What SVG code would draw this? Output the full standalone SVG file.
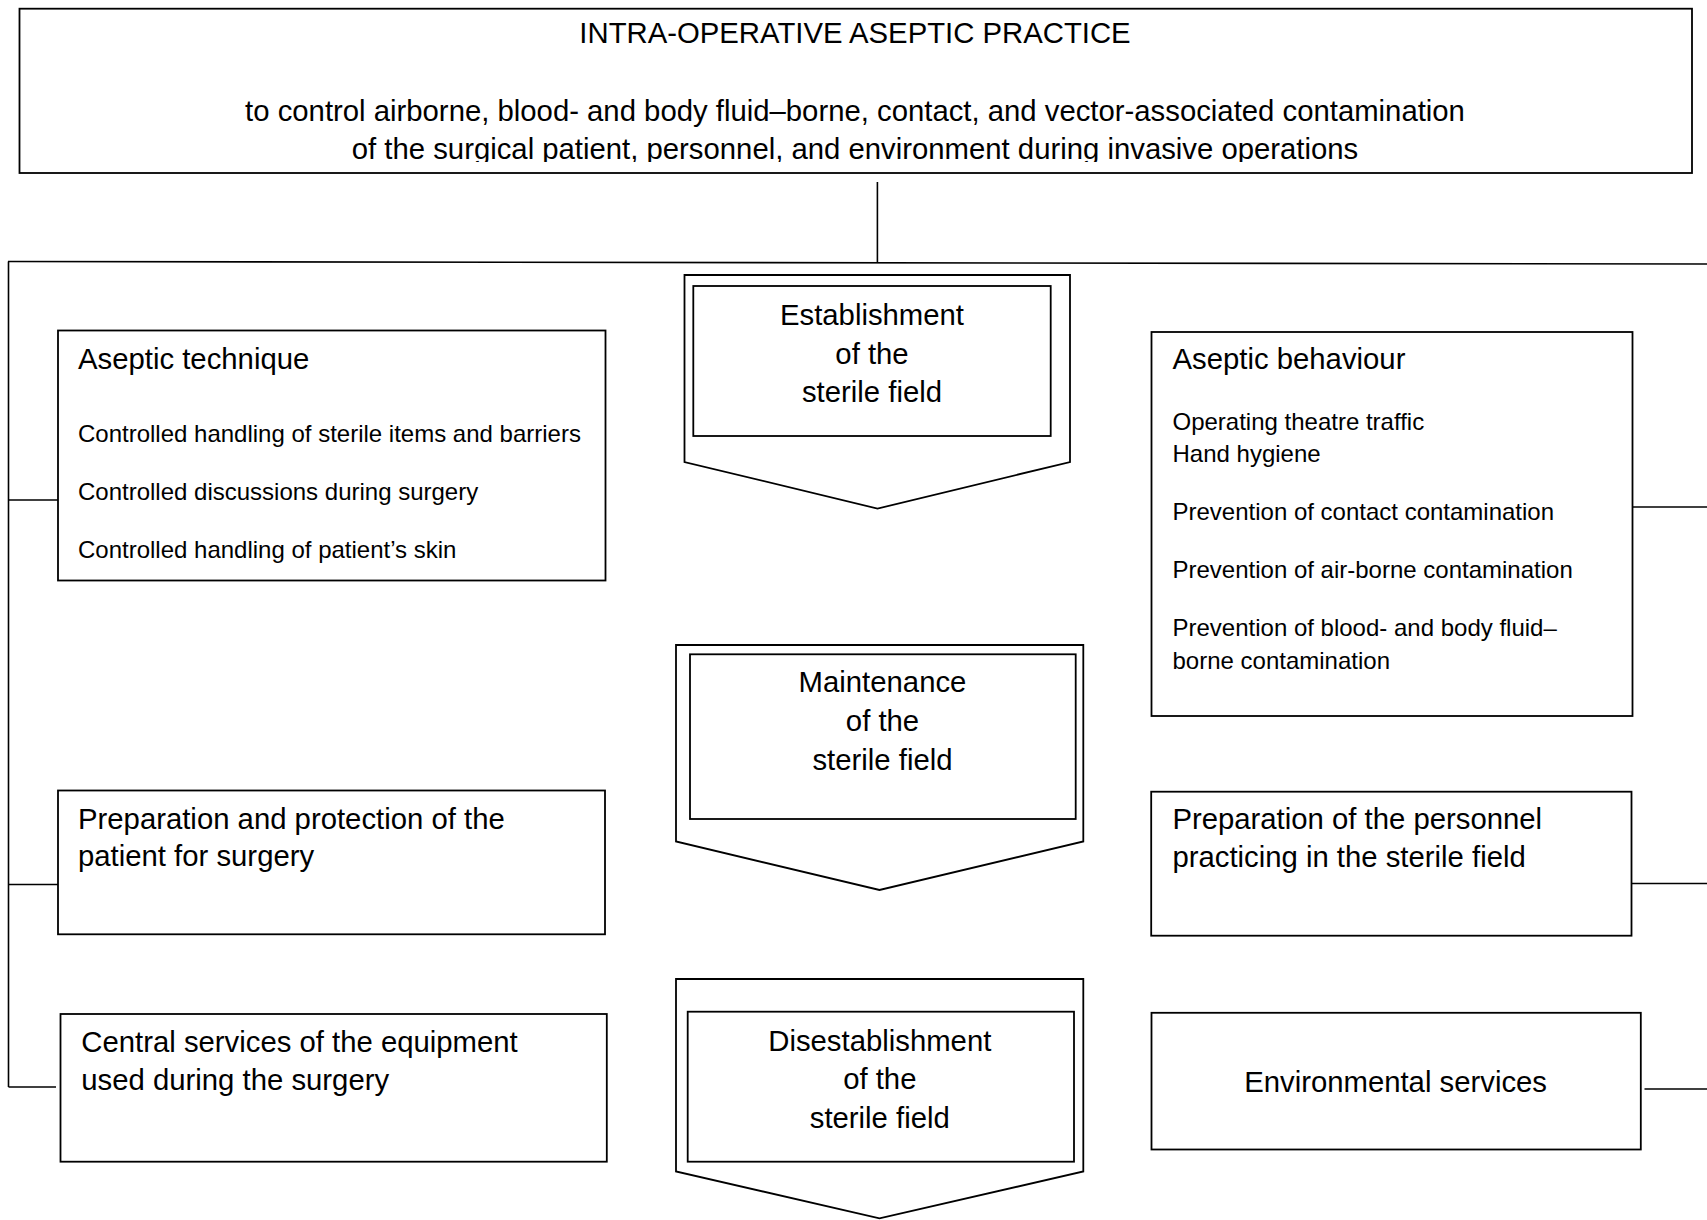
<svg xmlns="http://www.w3.org/2000/svg" width="1707" height="1220" viewBox="0 0 1707 1220">
<defs>
<style>
.box{fill:#fff;stroke:#000;stroke-width:1.8}
.chev{fill:#fff;stroke:#000;stroke-width:1.8}
.ln{fill:none;stroke:#000;stroke-width:1.6}
text{font-family:"Liberation Sans",Arial,sans-serif;fill:#000}
.big{font-size:29.3px}
.sm{font-size:24px}
.mid{text-anchor:middle}
</style>
<clipPath id="topclip"><rect x="19" y="8" width="1674" height="154"/></clipPath>
</defs>
<rect width="1707" height="1220" fill="#fff"/>
<g id="connectors">
<line class="ln" x1="877.4" y1="182" x2="877.4" y2="263"/>
<line class="ln" x1="8" y1="261.5" x2="1707" y2="264"/>
<line class="ln" x1="8.5" y1="261.5" x2="8.5" y2="1087"/>
<line class="ln" x1="8.5" y1="500" x2="58" y2="500"/>
<line class="ln" x1="8.5" y1="884.5" x2="58" y2="884.5"/>
<line class="ln" x1="8.5" y1="1087" x2="56" y2="1087"/>
<line class="ln" x1="1632.5" y1="507" x2="1707" y2="507"/>
<line class="ln" x1="1628.5" y1="883.5" x2="1707" y2="883.5"/>
<line class="ln" x1="1644.5" y1="1089" x2="1707" y2="1089"/>
</g>
<g id="top">
<rect class="box" x="19.5" y="8.7" width="1672.5" height="164.3"/>
<text class="big mid" x="855" y="43">INTRA-OPERATIVE ASEPTIC PRACTICE</text>
<g clip-path="url(#topclip)">
<text class="big mid" x="855" y="121">to control airborne, blood- and body fluid–borne, contact, and vector-associated contamination</text>
<text class="big mid" x="855" y="159">of the surgical patient, personnel, and environment during invasive operations</text>
</g>
</g>
<g id="aseptic-technique">
<rect class="box" x="58" y="330.5" width="547.5" height="250"/>
<text class="big" x="78" y="368.5">Aseptic technique</text>
<text class="sm" x="78" y="441.5">Controlled handling of sterile items and barriers</text>
<text class="sm" x="78" y="500">Controlled discussions during surgery</text>
<text class="sm" x="78" y="558.3">Controlled handling of patient’s skin</text>
</g>
<g id="establishment">
<polygon class="chev" points="684.5,275 1070,275 1070,462 877.5,508.5 684.5,462"/>
<rect class="box" x="693.3" y="286" width="357.4" height="150"/>
<text class="big mid" x="872" y="325">Establishment</text>
<text class="big mid" x="872" y="363.5">of the</text>
<text class="big mid" x="872" y="401.7">sterile field</text>
</g>
<g id="aseptic-behaviour">
<rect class="box" x="1151.5" y="332" width="481" height="384"/>
<text class="big" x="1172.5" y="369.3">Aseptic behaviour</text>
<text class="sm" x="1172.5" y="429.5">Operating theatre traffic</text>
<text class="sm" x="1172.5" y="461.7">Hand hygiene</text>
<text class="sm" x="1172.5" y="519.5">Prevention of contact contamination</text>
<text class="sm" x="1172.5" y="578.3">Prevention of air-borne contamination</text>
<text class="sm" x="1172.5" y="636.3">Prevention of blood- and body fluid–</text>
<text class="sm" x="1172.5" y="668.5">borne contamination</text>
</g>
<g id="maintenance">
<polygon class="chev" points="676,645 1083.3,645 1083.3,841.5 879.5,890 676,841.5"/>
<rect class="box" x="690" y="654.3" width="385.7" height="164.7"/>
<text class="big mid" x="882.5" y="691.7">Maintenance</text>
<text class="big mid" x="882.5" y="730.5">of the</text>
<text class="big mid" x="882.5" y="769.5">sterile field</text>
</g>
<g id="prep-patient">
<rect class="box" x="58" y="790.5" width="547" height="143.8"/>
<text class="big" x="78" y="828.5">Preparation and protection of the</text>
<text class="big" x="78" y="865.5">patient for surgery</text>
</g>
<g id="prep-personnel">
<rect class="box" x="1151.2" y="791.7" width="480.3" height="144"/>
<text class="big" x="1172.4" y="829.3">Preparation of the personnel</text>
<text class="big" x="1172.4" y="867.3">practicing in the sterile field</text>
</g>
<g id="central-services">
<rect class="box" x="60.5" y="1014" width="546.3" height="147.7"/>
<text class="big" x="81.3" y="1051.7">Central services of the equipment</text>
<text class="big" x="81.3" y="1090">used during the surgery</text>
</g>
<g id="disestablishment">
<polygon class="chev" points="676,979 1083.3,979 1083.3,1171.5 879.5,1218.3 676,1171.5"/>
<rect class="box" x="687.7" y="1011.7" width="386.3" height="150"/>
<text class="big mid" x="879.8" y="1050.7">Disestablishment</text>
<text class="big mid" x="879.8" y="1089.3">of the</text>
<text class="big mid" x="879.8" y="1128.3">sterile field</text>
</g>
<g id="environmental-services">
<rect class="box" x="1151.5" y="1012.8" width="489.3" height="136.7"/>
<text class="big mid" x="1395.6" y="1091.7">Environmental services</text>
</g>
</svg>
